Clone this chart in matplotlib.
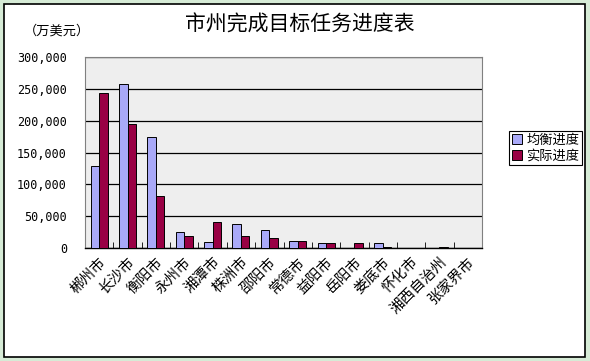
import numpy as np
import matplotlib.pyplot as plt
from matplotlib.patches import Rectangle
from matplotlib.ticker import FuncFormatter

plt.rcParams['font.family'] = ['Noto Sans CJK SC', 'DejaVu Sans']

#%% datos
ciudades = ['郴州市', '长沙市', '衡阳市', '永州市', '湘潭市', '株洲市', '邵阳市',
            '常德市', '益阳市', '岳阳市', '娄底市', '怀化市', '湘西自治州', '张家界市']
junheng = [129000, 257000, 174000, 25000, 9400, 37500, 28000,
           11000, 7800, 0, 7800, 0, 0, 0]
shiji = [243000, 194500, 81000, 19000, 40600, 19000, 15600,
         11000, 7800, 7800, 2000, 0, 1500, 0]

#%% grafico
fig = plt.figure(figsize=(5.9, 3.61), dpi=100)
fig.patch.set_facecolor('#D6EBD6')
fig.patches.append(Rectangle((4/590, 4/361), 581/590, 353/361, transform=fig.transFigure,
                             facecolor='white', edgecolor='black', linewidth=1.2, zorder=-1))

ax = fig.add_axes([85/590, 1-248/361, 397/590, 191/361])
ax.set_zorder(2)
ax.set_facecolor('#EEEEEE')
x = np.arange(len(ciudades))
w = 0.3
ax.bar(x - w/2, junheng, w, color='#A9A9F8', edgecolor='black', linewidth=0.7, label='均衡进度', zorder=3)
ax.bar(x + w/2, shiji, w, color='#990044', edgecolor='black', linewidth=0.7, label='实际进度', zorder=3)

ax.set_xlim(-0.5, len(ciudades) - 0.5)
ax.set_ylim(0, 300000)
ax.set_yticks(np.arange(0, 300001, 50000))
ax.yaxis.set_major_formatter(FuncFormatter(lambda v, p: '{:,.0f}'.format(v)))
ax.tick_params(axis='y', length=0, pad=13)
for t in ax.get_yticklabels():
    t.set_fontfamily('DejaVu Sans Mono')
    t.set_fontsize(8.5)
ax.grid(axis='y', color='black', linewidth=0.9, zorder=1)

ax.set_xticks(x)
ax.set_xticklabels(ciudades, rotation=45, ha='right', rotation_mode='anchor', fontsize=10.5)
ax.tick_params(axis='x', length=0, pad=5)
ax.set_xticks(np.arange(-0.5, len(ciudades)), minor=True)
ax.tick_params(axis='x', which='minor', direction='in', length=4, color='black')

for s in ['left', 'right', 'top']:
    ax.spines[s].set_color('#808080')
ax.spines['bottom'].set_color('black')
ax.spines['bottom'].set_linewidth(1.0)

leg = ax.legend(loc='upper left', bbox_to_anchor=(509/590, 1-131/361), bbox_transform=fig.transFigure,
                fancybox=False, edgecolor='black', fontsize=9.5, handlelength=0.8, handleheight=0.8,
                handletextpad=0.3, borderpad=0.2, labelspacing=0.2, borderaxespad=0, framealpha=1)
leg.get_frame().set_linewidth(0.8)

fig.text(300/590, 1-25/361, '市州完成目标任务进度表', ha='center', va='center', fontsize=15)
fig.text(57/590, 1-31/361, '（万美元）', ha='center', va='center', fontsize=9.5)

fig.savefig('out.png', dpi=100, facecolor=fig.get_facecolor())
